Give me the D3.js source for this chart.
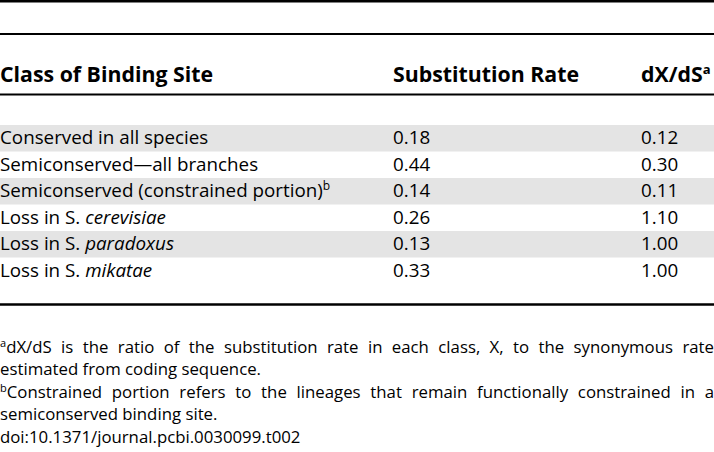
<!DOCTYPE html>
<html>
<head>
<meta charset="utf-8">
<script src="https://cdn.jsdelivr.net/npm/d3@7"></script>
<style>
  body { margin: 0; background: #fff; }
  text { font-family: "Open Sans", "Noto Sans", sans-serif; fill: #000; }
</style>
</head>
<body>
<svg></svg>
<script>
// size of the picture
let width = 714
let height = 452

// table data
const headers = ['Class of Binding Site', 'Substitution Rate', 'dX/dS']
const headerNotes = ['', '', 'a']
const classText = ['Conserved in all species', 'Semiconserved\u2014all branches', 'Semiconserved (constrained portion)', 'Loss in S. ', 'Loss in S. ', 'Loss in S. ']
const classItalic = ['', '', '', 'cerevisiae', 'paradoxus', 'mikatae']
const classNotes = ['', '', 'b', '', '', '']
const subRate = [0.18, 0.44, 0.14, 0.26, 0.13, 0.33]
const dxds = [0.12, 0.30, 0.11, 1.10, 1.00, 1.00]
const footnotes = [
  {note: 'a', text: 'dX/dS is the ratio of the substitution rate in each class, X, to the synonymous rate', justify: true},
  {note: '', text: 'estimated from coding sequence.', justify: false},
  {note: 'b', text: 'Constrained portion refers to the lineages that remain functionally constrained in a', justify: true},
  {note: '', text: 'semiconserved binding site.', justify: false},
  {note: '', text: 'doi:10.1371/journal.pcbi.0030099.t002', justify: false}
]

let svg = d3.select('svg').attr('width', width).attr('height', height)

let fmt = d3.format('.2f')
let headSize = 21.3
let bodySize = 18.8
let footSize = 16.8

// column positions and row bands
let xCol = d3.scaleOrdinal().domain([0, 1, 2]).range([0, 393, 641])
let yRow = d3.scaleBand().domain(d3.range(classText.length)).range([125, 284])

// shaded rows
svg.selectAll('rect.shade')
  .data(d3.range(classText.length).filter(i => i % 2 == 0))
  .enter()
  .append('rect')
  .attr('class', 'shade')
  .attr('x', 0)
  .attr('width', width)
  .attr('y', i => yRow(i))
  .attr('height', yRow.bandwidth())
  .attr('fill', '#e4e4e4')

// rules
let rules = [{y: 1.2, w: 2.5}, {y: 34, w: 2}, {y: 94.5, w: 2}, {y: 304.5, w: 2.5}]
svg.selectAll('line.rule')
  .data(rules)
  .enter()
  .append('line')
  .attr('class', 'rule')
  .attr('x1', 0)
  .attr('x2', width)
  .attr('y1', d => d.y)
  .attr('y2', d => d.y)
  .attr('stroke', '#000')
  .attr('stroke-width', d => d.w)

// header
let head = svg.selectAll('text.head')
  .data(headers)
  .enter()
  .append('text')
  .attr('class', 'head')
  .attr('x', (d, i) => xCol(i))
  .attr('y', 82)
  .style('font-size', headSize + 'px')
  .style('font-weight', 'bold')
head.append('tspan').text(d => d)
head.append('tspan')
  .text((d, i) => headerNotes[i])
  .attr('dy', -8)
  .style('font-size', '13px')

// body rows
let rowY = i => yRow(i) + 19
let cls = svg.selectAll('text.cls')
  .data(classText)
  .enter()
  .append('text')
  .attr('class', 'cls')
  .attr('x', xCol(0))
  .attr('y', (d, i) => rowY(i))
  .style('font-size', bodySize + 'px')
cls.append('tspan').text(d => d)
cls.append('tspan').text((d, i) => classItalic[i]).style('font-style', 'italic')
cls.append('tspan').text((d, i) => classNotes[i]).attr('dy', -7).style('font-size', '12px')

svg.selectAll('text.rate')
  .data(subRate)
  .enter()
  .append('text')
  .attr('class', 'rate')
  .attr('x', xCol(1))
  .attr('y', (d, i) => rowY(i))
  .style('font-size', bodySize + 'px')
  .text(d => fmt(d))

svg.selectAll('text.dxds')
  .data(dxds)
  .enter()
  .append('text')
  .attr('class', 'dxds')
  .attr('x', xCol(2))
  .attr('y', (d, i) => rowY(i))
  .style('font-size', bodySize + 'px')
  .text(d => fmt(d))

// footnotes, justified lines spread the words across the full width
let footTop = 353
footnotes.forEach((f, li) => {
  let y = footTop + li * 22.4
  let line = svg.append('text').attr('y', y).style('font-size', footSize + 'px')
  let x0 = 0
  if (f.note) {
    let sup = line.append('tspan')
      .attr('x', 0)
      .style('font-size', '11px')
      .style('baseline-shift', '6px')
      .text(f.note)
    x0 = sup.node().getComputedTextLength()
  }
  let words = f.text.split(' ')
  let spans = line.selectAll('tspan.word')
    .data(words)
    .enter()
    .append('tspan')
    .attr('class', 'word')
    .text(d => d)
  let widths = spans.nodes().map(n => n.getComputedTextLength())
  let space = footSize * 0.26
  if (f.justify) {
    space = (width - x0 - d3.sum(widths)) / (words.length - 1)
  }
  let x = x0
  spans.attr('x', (d, i) => {
    let cur = x
    x += widths[i] + space
    return cur
  })
})
</script>
</body>
</html>
